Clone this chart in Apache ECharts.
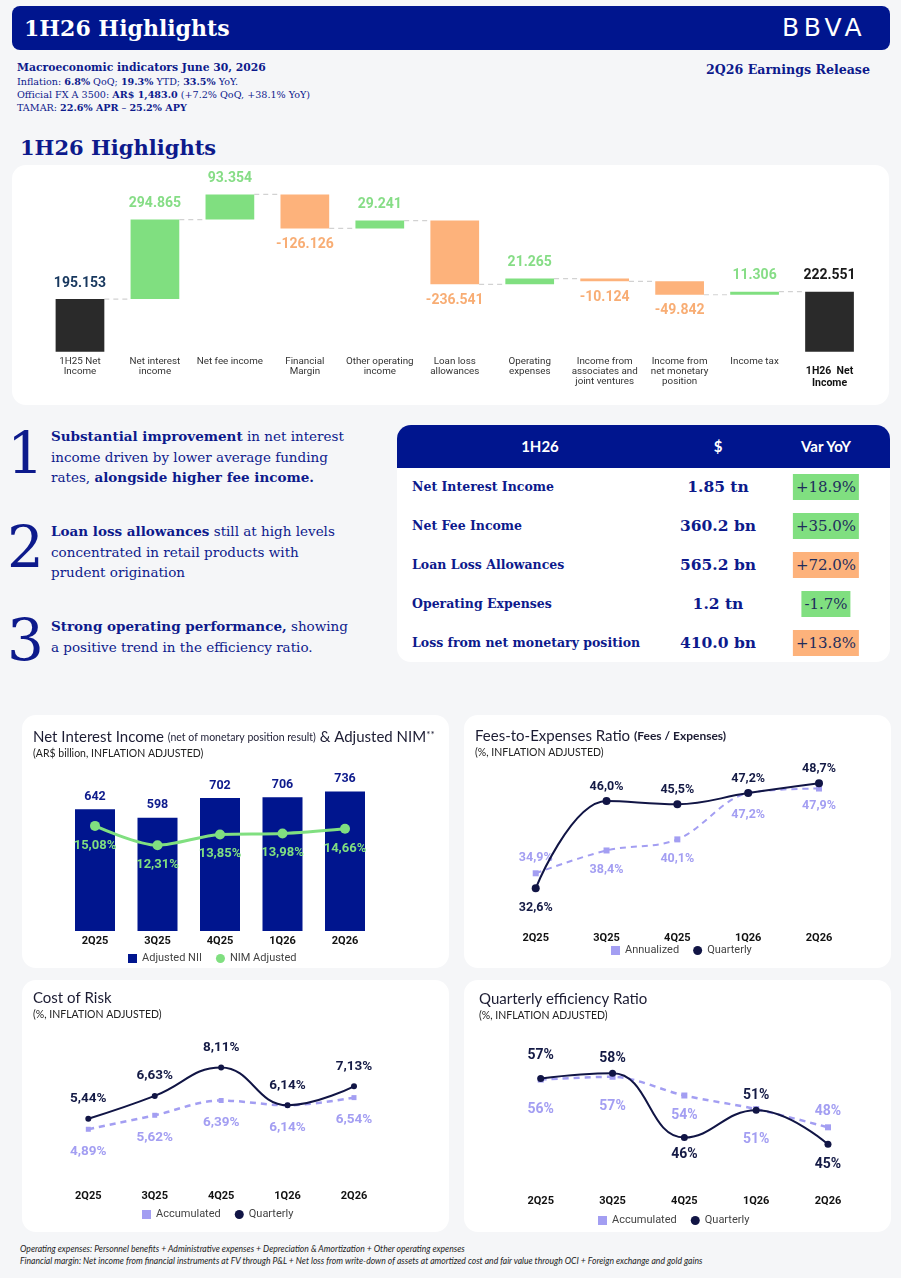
<!DOCTYPE html>
<html><head><meta charset="utf-8">
<script src="https://cdn.jsdelivr.net/npm/echarts@6/dist/echarts.min.js"></script>
<style>
html,body{margin:0;padding:0;background:#f5f6f8;}
#page{position:relative;width:901px;height:1278px;overflow:hidden;background:#f5f6f8;font-family:'DejaVu Serif',serif;color:#0d1a8c;}
.abs{position:absolute;white-space:nowrap;}
.card{position:absolute;background:#fff;border-radius:14px;}
.chart{position:absolute;}
#hdr{position:absolute;left:12px;top:6px;width:878px;height:44px;background:#00158e;border-radius:8px;}
#hdr .t{position:absolute;left:12px;top:8px;font:bold 22px/28px 'DejaVu Serif',serif;color:#fff;}
#hdr .logo{position:absolute;left:770px;top:7px;font:normal 25px/30px 'DejaVu Sans',sans-serif;letter-spacing:4.5px;color:#fff;}
.macro{font-size:9.6px;line-height:13px;color:#0d1a8c;}
.macro b{font-weight:bold;}
.para{font-size:13.5px;line-height:20.5px;color:#0d1a8c;}
.para b{font-weight:bold;}
.big{font:normal 58px/58px 'DejaVu Serif',serif;color:#0d1a8c;}
.foot{font:italic 8.6px/12px 'Lato',sans-serif;color:#222;}
#tbl{position:absolute;left:397px;top:425px;width:493px;height:237px;background:#fff;border-radius:14px;overflow:hidden;}
#tbl .head{position:absolute;left:0;top:0;width:493px;height:43px;background:#00158e;}
#tbl .hc{position:absolute;top:0;line-height:43px;font:bold 15px/43px 'Lato',sans-serif;color:#fff;transform:translateX(-50%);}
#tbl .rl{position:absolute;left:15px;font:bold 12.5px/20px 'DejaVu Serif',serif;color:#0d1a8c;white-space:nowrap;}
#tbl .rv{position:absolute;font:bold 15.5px/20px 'DejaVu Serif',serif;color:#0d1a8c;transform:translateX(-50%);white-space:nowrap;}
#tbl .rb{position:absolute;height:26px;font:normal 15px/26px 'DejaVu Serif',serif;color:#1e2d5c;padding:0 3px;transform:translateX(-50%);white-space:nowrap;}
</style></head>
<body>
<div id="page">
  <div id="hdr"><div class="t">1H26 Highlights</div><div class="logo">BBVA</div></div>

  <div class="abs macro" style="left:17px;top:61px;font-weight:bold;font-size:10.8px;">Macroeconomic indicators June 30, 2026</div>
  <div class="abs macro" style="left:17px;top:75px;">Inflation: <b>6.8%</b> QoQ; <b>19.3%</b> YTD; <b>33.5%</b> YoY.</div>
  <div class="abs macro" style="left:17px;top:88px;">Official FX A 3500: <b>AR$ 1,483.0</b> (+7.2% QoQ, +38.1% YoY)</div>
  <div class="abs macro" style="left:17px;top:101px;">TAMAR: <b>22.6% APR</b> – <b>25.2% APY</b></div>
  <div class="abs" style="left:706px;top:61px;font:bold 12.6px/18px 'DejaVu Serif',serif;color:#0d1a8c;">2Q26 Earnings Release</div>

  <div class="abs" style="left:20px;top:134px;font:bold 21px/28px 'DejaVu Serif',serif;color:#0d1a8c;">1H26 Highlights</div>

  <div class="card" style="left:12px;top:165px;width:877px;height:240px;"></div>
  <div class="chart" id="wf" style="left:12px;top:165px;width:877px;height:240px;"></div>

  <div class="abs big" style="left:7px;top:424px;">1</div>
  <div class="abs big" style="left:7px;top:518px;">2</div>
  <div class="abs big" style="left:7px;top:611px;">3</div>
  <div class="abs para" style="left:51px;top:426px;"><b>Substantial improvement</b> in net interest<br>income driven by lower average funding<br>rates, <b>alongside higher fee income.</b></div>
  <div class="abs para" style="left:51px;top:521px;"><b>Loan loss allowances</b> still at high levels<br>concentrated in retail products with<br>prudent origination</div>
  <div class="abs para" style="left:51px;top:616px;"><b>Strong operating performance,</b> showing<br>a positive trend in the efficiency ratio.</div>

  <div id="tbl"><div class="head"></div></div>

  <div class="card" style="left:22px;top:715px;width:427px;height:253px;"></div>
  <div class="chart" id="nii" style="left:22px;top:715px;width:427px;height:253px;"></div>
  <div class="card" style="left:464px;top:715px;width:427px;height:253px;"></div>
  <div class="chart" id="fees" style="left:464px;top:715px;width:427px;height:253px;"></div>
  <div class="card" style="left:22px;top:980px;width:427px;height:252px;"></div>
  <div class="chart" id="cor" style="left:22px;top:980px;width:427px;height:252px;"></div>
  <div class="card" style="left:464px;top:980px;width:427px;height:252px;"></div>
  <div class="chart" id="eff" style="left:464px;top:980px;width:427px;height:252px;"></div>

  <div class="abs foot" style="left:20px;top:1243px;">Operating expenses: Personnel benefits + Administrative expenses + Depreciation &amp; Amortization + Other operating expenses</div>
  <div class="abs foot" style="left:20px;top:1255px;">Financial margin: Net income from financial instruments at FV through P&amp;L + Net loss from write-down of assets at amortized cost and fair value through OCI + Foreign exchange and gold gains</div>
</div>

<script>
// ---------------- DATA ----------------
const wfCategories = ['1H25 Net\nIncome','Net interest\nincome','Net fee income','Financial\nMargin','Other operating\nincome','Loan loss\nallowances','Operating\nexpenses','Income from\nassociates and\njoint ventures','Income from\nnet monetary\nposition','Income tax','1H26  Net\nIncome'];
const wfStart = 195.153;
const wfDeltas = [294.865, 93.354, -126.126, 29.241, -236.541, 21.265, -10.124, -49.842, 11.306];
const wfEnd = 222.551;

const tableColumns = ['1H26', '$', 'Var YoY'];
const tableRows = ['Net Interest Income', 'Net Fee Income', 'Loan Loss Allowances', 'Operating Expenses', 'Loss from net monetary position'];
const tableAmounts = ['1.85 tn', '360.2 bn', '565.2 bn', '1.2 tn', '410.0 bn'];
const tableVarYoY = ['+18.9%', '+35.0%', '+72.0%', '-1.7%', '+13.8%'];
const tableVarTone = ['good', 'good', 'bad', 'good', 'bad'];

const quarters = ['2Q25', '3Q25', '4Q25', '1Q26', '2Q26'];
const niiAdjusted = [642, 598, 702, 706, 736];
const nimAdjusted = [15.08, 12.31, 13.85, 13.98, 14.66];
const feesAnnualized = [34.9, 38.4, 40.1, 47.2, 47.9];
const feesQuarterly = [32.6, 46.0, 45.5, 47.2, 48.7];
const corAccumulated = [4.89, 5.62, 6.39, 6.14, 6.54];
const corQuarterly = [5.44, 6.63, 8.11, 6.14, 7.13];
const effAccumulated = [56.4, 56.9, 53.6, 51.2, 48.0];
const effQuarterly = [56.6, 57.5, 46.2, 51.0, 45.0];

// ---------------- STYLE ----------------
const NAVY = '#00158e', DARK = '#111545', GREEN = '#80df80', ORANGE = '#fdb27b', LAV = '#a39ef2', BLACKBAR = '#2a2a2a';
const SANS = 'Roboto';

// ---------------- TABLE ----------------
(function(){
  const t = document.getElementById('tbl');
  const colX = [143, 321, 429];
  tableColumns.forEach((c,i)=>{ const d=document.createElement('div'); d.className='hc'; d.style.left=colX[i]+'px'; d.textContent=c; t.appendChild(d); });
  tableRows.forEach((r,i)=>{
    const cy = 61.7 + i*39;
    const a=document.createElement('div'); a.className='rl'; a.style.top=(cy-10)+'px'; a.textContent=r; t.appendChild(a);
    const b=document.createElement('div'); b.className='rv'; b.style.left=colX[1]+'px'; b.style.top=(cy-10)+'px'; b.textContent=tableAmounts[i]; t.appendChild(b);
    const c=document.createElement('div'); c.className='rb'; c.style.left=colX[2]+'px'; c.style.top=(cy-13)+'px'; c.style.background = tableVarTone[i]==='good'?GREEN:ORANGE; c.textContent=tableVarYoY[i]; t.appendChild(c);
  });
})();

// ---------------- WATERFALL ----------------
(function(){
  const n = wfCategories.length;
  const levels = [wfStart];
  let cum = wfStart;
  wfDeltas.forEach(d => { cum += d; levels.push(cum); });
  const base = [0], vis = [];
  vis.push({value: wfStart, itemStyle:{color:BLACKBAR}, label:{position:'top', color:'#17375e'}});
  wfDeltas.forEach((d,i) => {
    base.push(Math.min(levels[i], levels[i+1]));
    vis.push({value: Math.abs(d), itemStyle:{color: d>=0?GREEN:ORANGE}, label:{position: d>=0?'top':'bottom', color: d>=0?'#86dd86':'#f8ad74'}});
  });
  base.push(0);
  vis.push({value: wfEnd, itemStyle:{color:BLACKBAR}, label:{position:'top', color:'#1a1a1a'}});
  const labelText = i => (i===0 ? wfStart : i===n-1 ? wfEnd : wfDeltas[i-1]).toFixed(3);
  const connectors = levels.map((l,i)=>[i,l]);
  const cats = wfCategories.map((c,i)=> i===n-1
    ? {value:c, textStyle:{fontWeight:'bold', fontSize:10.5, color:'#111', lineHeight:12, padding:[9,0,0,0]}}
    : c);
  const chart = echarts.init(document.getElementById('wf'));
  chart.setOption({
    animation:false,
    textStyle:{fontFamily:SANS},
    grid:{left:30.5, right:22, top:11.5, bottom:53.3},
    xAxis:{type:'category', data:cats, axisLine:{show:false}, axisTick:{show:false},
      axisLabel:{interval:0, fontSize:9.8, color:'#333', lineHeight:10, margin:5, fontFamily:SANS}},
    yAxis:{type:'value', min:0, max:650, show:false},
    series:[
      {type:'bar', stack:'wf', data:base, barWidth:'65%', itemStyle:{color:'transparent'}, silent:true},
      {type:'bar', stack:'wf', data:vis, barWidth:'65%',
        label:{show:true, fontSize:14, fontWeight:'bold', distance:9, fontFamily:SANS, formatter:p=>labelText(p.dataIndex)}},
      {type:'custom', data:connectors, encode:{x:0,y:1}, z:1, silent:true,
        renderItem:function(params, api){
          const idx = api.value(0), lvl = api.value(1);
          const p = api.coord([idx, lvl]);
          const band = api.size([1,0])[0];
          const half = band*0.65/2;
          return {type:'line', shape:{x1:p[0]+half, y1:p[1], x2:p[0]+band-half, y2:p[1]},
            style:{stroke:'#d2d2d2', lineWidth:1.2, lineDash:[5,4]}};
        }}
    ]
  });
})();

// ---------------- HELPERS ----------------
const pct1 = v => v.toFixed(1).replace('.',',')+'%';
const pct2 = v => v.toFixed(2).replace('.',',')+'%';
const pct0 = v => Math.round(v)+'%';

function lineSeries(name, values, opts){
  return {
    name, type:'line', data: values.map((v,i)=>({value:v, label:{position:opts.pos[i], distance:opts.dist[i]}})),
    smooth: opts.smooth, symbol: opts.symbol, symbolSize: opts.symbolSize, z: opts.z,
    lineStyle:{color:opts.color, width:opts.width, type: opts.dashed ? [6,5] : 'solid'},
    itemStyle:{color:opts.color},
    label:{show:true, fontFamily:SANS, fontSize:opts.fontSize||13, fontWeight:'bold', color:opts.labelColor, formatter:p=>opts.fmt(p.value)}
  };
}
function titles(main, rich, sub, left, top){
  return [
    {text:main, left:left, top:top, padding:0, textStyle:{fontFamily:'Lato', fontSize:15, fontWeight:'normal', color:'#1c1c33', rich:rich}},
    {text:sub, left:left, top:top+18, padding:0, textStyle:{fontFamily:'Lato', fontSize:10.5, fontWeight:'normal', color:'#222'}}
  ];
}
function legendCfg(names, icons, left, top){
  return {left:left, top:top, itemWidth:9, itemHeight:9, itemGap:14, padding:0,
    textStyle:{fontFamily:SANS, fontSize:11, color:'#444'},
    data: names.map((nm,i)=>({name:nm, icon:icons[i]}))};
}
const xAx = (margin)=>({type:'category', data:quarters, axisLine:{show:false}, axisTick:{show:false},
  axisLabel:{fontFamily:SANS, fontWeight:'bold', fontSize:11, color:'#111', margin:margin}});

// ---------------- NII ----------------
echarts.init(document.getElementById('nii')).setOption({
  animation:false, textStyle:{fontFamily:SANS},
  title: titles('{a|Net Interest Income} {b|(net of monetary position result)} {a|& Adjusted NIM}{c|**}',
    {a:{fontFamily:'Lato', fontSize:15, color:'#1c1c33'}, b:{fontFamily:'Lato', fontSize:10.5, color:'#1c1c33'}, c:{fontFamily:'Lato', fontSize:10, color:'#1c1c33', verticalAlign:'top'}},
    '(AR$ billion, INFLATION ADJUSTED)', 11, 15),
  legend: legendCfg(['Adjusted NII','NIM Adjusted'], ['rect','circle'], 106, 238),
  grid:{left:41.75, right:72.75, top:64.4, bottom:37},
  xAxis: xAx(5),
  yAxis:[{type:'value', min:0, max:800, show:false}, {type:'value', min:0, max:21.75, show:false}],
  series:[
    {name:'Adjusted NII', type:'bar', data:niiAdjusted, barWidth:'64%', itemStyle:{color:NAVY},
      label:{show:true, position:'top', distance:6, fontFamily:SANS, fontWeight:'bold', fontSize:12.5, color:'#0d1a8c'}},
    {name:'NIM Adjusted', type:'line', yAxisIndex:1, data:nimAdjusted, smooth:0.3, symbol:'circle', symbolSize:10,
      lineStyle:{color:GREEN, width:3}, itemStyle:{color:GREEN},
      label:{show:true, position:'bottom', distance:8, fontFamily:SANS, fontWeight:'bold', fontSize:13, color:GREEN, formatter:p=>pct2(p.value)}}
  ]
});

// ---------------- FEES ----------------
echarts.init(document.getElementById('fees')).setOption({
  animation:false, textStyle:{fontFamily:SANS},
  title: titles('{a|Fees-to-Expenses Ratio} {b|(Fees / Expenses)}',
    {a:{fontFamily:'Lato', fontSize:15, color:'#1c1c33'}, b:{fontFamily:'Lato', fontSize:12, fontWeight:'bold', color:'#1c1c33'}},
    '(%, INFLATION ADJUSTED)', 11, 14),
  legend: legendCfg(['Annualized','Quarterly'], ['rect','circle'], 147, 230),
  grid:{left:36.3, right:36.6, top:46.8, bottom:43.2},
  xAxis: xAx(8),
  yAxis:{type:'value', min:27, max:52, show:false},
  series:[
    lineSeries('Annualized', feesAnnualized, {pos:['top','bottom','bottom','bottom','bottom'], dist:[6,10,10,12,8],
      smooth:0.35, symbol:'rect', symbolSize:6, color:LAV, width:2, dashed:true, labelColor:LAV, fmt:pct1, z:2, fontSize:12.5}),
    lineSeries('Quarterly', feesQuarterly, {pos:['bottom','top','top','top','top'], dist:[9,4,4,4,4],
      smooth:0.4, symbol:'circle', symbolSize:8, color:DARK, width:2, dashed:false, labelColor:'#141a45', fmt:pct1, z:3, fontSize:12.5})
  ]
});

// ---------------- COST OF RISK ----------------
echarts.init(document.getElementById('cor')).setOption({
  animation:false, textStyle:{fontFamily:SANS},
  title: titles('Cost of Risk', {}, '(%, INFLATION ADJUSTED)', 11, 11),
  legend: legendCfg(['Accumulated','Quarterly'], ['rect','circle'], 120, 229),
  grid:{left:33.1, right:61.8, top:70.4, bottom:51.1},
  xAxis: xAx(10),
  yAxis:{type:'value', min:2.2, max:9, show:false},
  series:[
    lineSeries('Accumulated', corAccumulated, {pos:['bottom','bottom','bottom','bottom','bottom'], dist:[13,13,13,13,13],
      smooth:0.35, symbol:'rect', symbolSize:5, color:LAV, width:2.5, dashed:true, labelColor:LAV, fmt:pct2, z:2, fontSize:13.5}),
    lineSeries('Quarterly', corQuarterly, {pos:['top','top','top','top','top'], dist:[10,10,10,10,10],
      smooth:0.45, symbol:'circle', symbolSize:6, color:DARK, width:2, dashed:false, labelColor:'#141a45', fmt:pct2, z:3, fontSize:13.5})
  ]
});

// ---------------- EFFICIENCY ----------------
echarts.init(document.getElementById('eff')).setOption({
  animation:false, textStyle:{fontFamily:SANS},
  title: titles('Quarterly efficiency Ratio', {}, '(%, INFLATION ADJUSTED)', 15, 12),
  legend: legendCfg(['Accumulated','Quarterly'], ['rect','circle'], 134, 235),
  grid:{left:40.8, right:27.1, top:67.8, bottom:47.9},
  xAxis: xAx(12),
  yAxis:{type:'value', min:38, max:62, show:false},
  series:[
    lineSeries('Accumulated', effAccumulated, {pos:['bottom','bottom','bottom','bottom','top'], dist:[20,20,10,20,6],
      smooth:0.3, symbol:'rect', symbolSize:6, color:LAV, width:2.5, dashed:true, labelColor:LAV, fmt:pct0, z:2, fontSize:14}),
    lineSeries('Quarterly', effQuarterly, {pos:['top','top','bottom','top','bottom'], dist:[12,4,6,4,10],
      smooth:0.45, symbol:'circle', symbolSize:7, color:DARK, width:2, dashed:false, labelColor:'#141a45', fmt:pct0, z:3, fontSize:14})
  ]
});
</script>
</body></html>
